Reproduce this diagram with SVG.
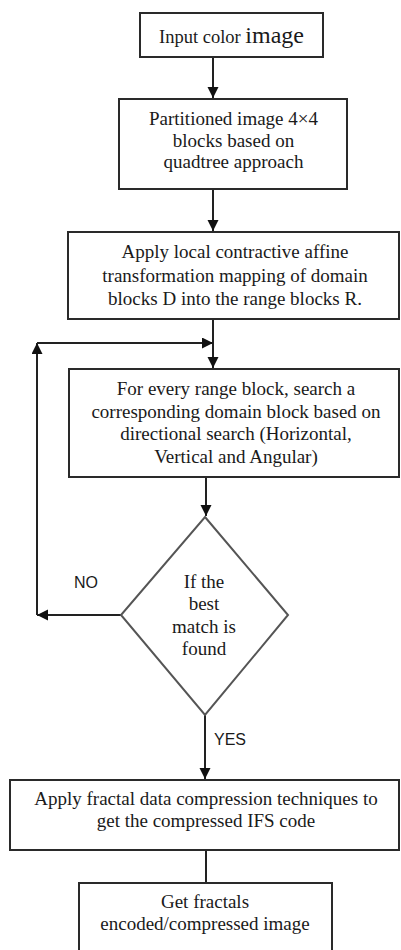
<svg xmlns="http://www.w3.org/2000/svg" width="401" height="950" viewBox="0 0 401 950">
<style>
.box{fill:#fff;stroke:#2a2a2a;stroke-width:2}
.dia{fill:#fff;stroke:#555;stroke-width:2}
.t{font-family:"Liberation Serif","Times New Roman",serif;font-size:19px;fill:#1a1a1a;text-anchor:middle}
.lbl{font-family:"Liberation Sans",Arial,sans-serif;font-size:16px;fill:#1a1a1a}
.ln{fill:none;stroke:#222;stroke-width:2}
</style>
<defs>
<marker id="ah" markerUnits="userSpaceOnUse" markerWidth="12" markerHeight="12" refX="11" refY="5.5" orient="auto">
<path d="M0,0 L11,5.5 L0,11 z" fill="#111"/>
</marker>
</defs>
<rect width="401" height="950" fill="#fff"/>
<g id="connectors">
<path class="ln" d="M213,57 V98" marker-end="url(#ah)"/>
<path class="ln" d="M213,189 V231" marker-end="url(#ah)"/>
<path class="ln" d="M213,319 V368" marker-end="url(#ah)"/>
<path class="ln" d="M206,477 V516" marker-end="url(#ah)"/>
<path class="ln" d="M121,615 H37" marker-end="url(#ah)"/>
<path class="ln" d="M37,615 V343" marker-end="url(#ah)"/>
<path class="ln" d="M37,343 H213" marker-end="url(#ah)"/>
<path class="ln" d="M205,715 V779" marker-end="url(#ah)"/>
<path class="ln" d="M206,850 V883"/>
</g>
<g id="n1">
<rect class="box" x="140" y="13" width="183" height="44"/>
<text class="t" x="231.5" y="43"><tspan font-size="18.5">Input color </tspan><tspan font-size="24">image</tspan></text>
</g>
<g id="n2">
<rect class="box" x="119" y="99" width="228" height="90"/>
<text class="t" x="233.5" y="125">Partitioned image 4×4</text>
<text class="t" x="233.5" y="147">blocks based on</text>
<text class="t" x="233.5" y="168">quadtree approach</text>
</g>
<g id="n3">
<rect class="box" x="68" y="232" width="331" height="87"/>
<text class="t" x="235" y="258">Apply local contractive  affine</text>
<text class="t" x="235" y="282">transformation  mapping of domain</text>
<text class="t" x="235" y="305">blocks D into the range  blocks  R.</text>
</g>
<g id="n4">
<rect class="box" x="69" y="369" width="330" height="108"/>
<text class="t" x="236" y="395">For every  range  block,  search  a</text>
<text class="t" x="236" y="418">corresponding  domain block based on</text>
<text class="t" x="236" y="440">directional  search  (Horizontal,</text>
<text class="t" x="236" y="463">Vertical  and Angular)</text>
</g>
<g id="n5">
<polygon class="dia" points="205,517 288,615 205,715 121,615"/>
<text class="t" x="204" y="588">If the</text>
<text class="t" x="204" y="610">best</text>
<text class="t" x="204" y="633">match is</text>
<text class="t" x="204" y="655">found</text>
</g>
<text class="lbl" x="74" y="588">NO</text>
<text class="lbl" x="214" y="745">YES</text>
<g id="n6">
<rect class="box" x="10" y="780" width="389" height="70"/>
<text class="t" x="206" y="805">Apply fractal  data compression  techniques  to</text>
<text class="t" x="206" y="827">get the compressed  IFS code</text>
</g>
<g id="n7">
<rect class="box" x="79" y="883" width="253" height="75"/>
<text class="t" x="205" y="908">Get fractals</text>
<text class="t" x="205" y="930">encoded/compressed  image</text>
</g>
</svg>
